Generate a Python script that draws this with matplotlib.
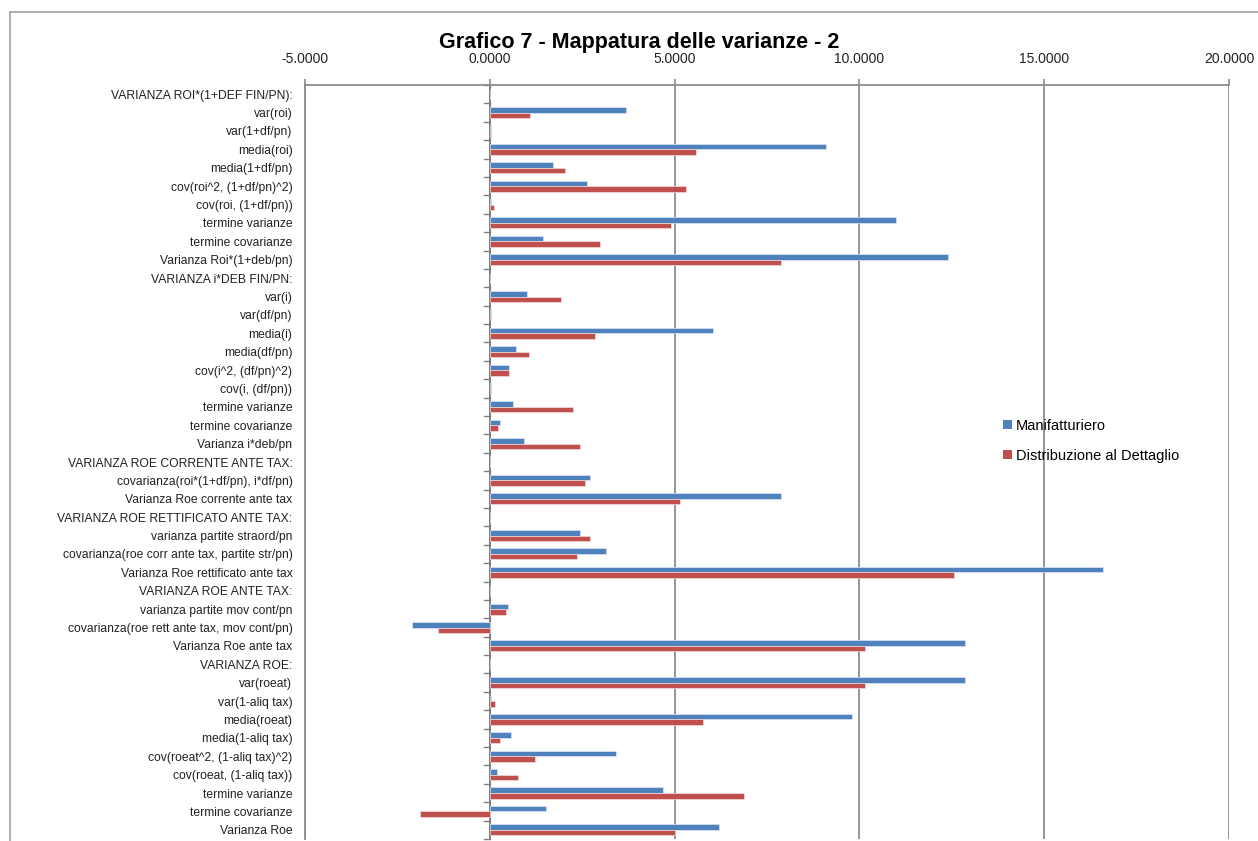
import matplotlib
matplotlib.use('Agg')
from matplotlib import pyplot as plt
from matplotlib.lines import Line2D
from matplotlib.patches import Patch
import numpy as np

plt.rcParams['font.family'] = ['Liberation Sans', 'DejaVu Sans']

categories = [
    'VARIANZA ROI*(1+DEF FIN/PN):',
    'var(roi)',
    'var(1+df/pn)',
    'media(roi)',
    'media(1+df/pn)',
    'cov(roi^2, (1+df/pn)^2)',
    'cov(roi, (1+df/pn))',
    'termine varianze',
    'termine covarianze',
    'Varianza Roi*(1+deb/pn)',
    'VARIANZA i*DEB FIN/PN:',
    'var(i)',
    'var(df/pn)',
    'media(i)',
    'media(df/pn)',
    'cov(i^2, (df/pn)^2)',
    'cov(i, (df/pn))',
    'termine varianze',
    'termine covarianze',
    'Varianza i*deb/pn',
    'VARIANZA ROE CORRENTE ANTE TAX:',
    'covarianza(roi*(1+df/pn), i*df/pn)',
    'Varianza Roe corrente ante tax',
    'VARIANZA ROE RETTIFICATO ANTE TAX:',
    'varianza partite straord/pn',
    'covarianza(roe corr ante tax, partite str/pn)',
    'Varianza Roe rettificato ante tax',
    'VARIANZA ROE ANTE TAX:',
    'varianza partite mov cont/pn',
    'covarianza(roe rett ante tax, mov cont/pn)',
    'Varianza Roe ante tax',
    'VARIANZA ROE:',
    'var(roeat)',
    'var(1-aliq tax)',
    'media(roeat)',
    'media(1-aliq tax)',
    'cov(roeat^2, (1-aliq tax)^2)',
    'cov(roeat, (1-aliq tax))',
    'termine varianze',
    'termine covarianze',
    'Varianza Roe',
]

manifatturiero = [
    0.0, 3.70, 0.04, 9.11, 1.72, 2.62, 0.04, 10.98, 1.45, 12.41,
    0.0, 1.02, 0.04, 6.03, 0.71, 0.53, 0.04, 0.64, 0.29, 0.92,
    0.0, 2.72, 7.87,
    0.0, 2.45, 3.14, 16.60,
    0.0, 0.49, -2.10, 12.85,
    0.0, 12.85, 0.04, 9.81, 0.58, 3.42, 0.19, 4.70, 1.51, 6.20,
]

dettaglio = [
    0.0, 1.09, 0.04, 5.57, 2.03, 5.32, 0.12, 4.91, 2.98, 7.87,
    0.0, 1.92, 0.04, 2.86, 1.05, 0.53, 0.03, 2.24, 0.22, 2.45,
    0.0, 2.58, 5.15,
    0.0, 2.72, 2.37, 12.57,
    0.0, 0.43, -1.40, 10.15,
    0.0, 10.15, 0.15, 5.78, 0.29, 1.23, 0.77, 6.89, -1.89, 5.00,
]

series_names = ['Manifatturiero', 'Distribuzione al Dettaglio']
xticks = [-5, 0, 5, 10, 15, 20]

blue = '#4F81BD'
red = '#C0504D'
grid_col = '#8C8C8C'

fig = plt.figure(figsize=(12.58, 8.41), dpi=100)
ax = fig.add_axes([0.2424, 0.0024, 0.7345, 0.8965])

y = np.arange(len(categories))
h = 0.3
ax.barh(y - h / 2, manifatturiero, height=h, color=blue, edgecolor='#DCE6F2', linewidth=0.5, zorder=3)
ax.barh(y + h / 2, dettaglio, height=h, color=red, edgecolor='#F2DCDB', linewidth=0.5, zorder=3)

ax.set_xlim(xticks[0], xticks[-1])
ax.set_ylim(len(categories) - 0.5, -0.5)

ax.xaxis.tick_top()
ax.set_xticks(xticks)
ax.set_xticklabels(['%.4f' % v for v in xticks], fontsize=10, color='#222222')
ax.tick_params(axis='x', direction='out', length=4, pad=10, color=grid_col, width=1.2)
ax.xaxis.grid(True, color=grid_col, linewidth=1.3, zorder=0)

ax.set_yticks(y)
ax.set_yticklabels(categories, fontsize=8.7, color='#222222')
ax.tick_params(axis='y', length=0, pad=9)

for s in ['bottom', 'right']:
    ax.spines[s].set_visible(False)
ax.spines['top'].set_color(grid_col)
ax.spines['top'].set_linewidth(1.3)
ax.spines['left'].set_color(grid_col)
ax.spines['left'].set_linewidth(1.3)

# category axis crossing at zero, with small ticks between categories
ax.axvline(0, color='#7F7F7F', linewidth=1.3, zorder=2)
for b in np.arange(len(categories) + 1) - 0.5:
    ax.plot([-0.15, 0], [b, b], color='#7F7F7F', linewidth=1.0, zorder=2, clip_on=False)

handles = [Patch(facecolor=blue, label=series_names[0]),
           Patch(facecolor=red, label=series_names[1])]
fig.legend(handles=handles, loc='center left', bbox_to_anchor=(0.787, 0.476),
           frameon=False, fontsize=10.5, handlelength=0.6, handleheight=0.65,
           handletextpad=0.25, labelspacing=1.1)

fig.text(0.508, 0.95, 'Grafico 7 - Mappatura delle varianze - 2',
         ha='center', va='center', fontsize=15.5, fontweight='bold')

# chart area border
fig.add_artist(Line2D([10 / 1258, 1], [1 - 12 / 841, 1 - 12 / 841], transform=fig.transFigure, color='#A0A0A0', linewidth=1.2))
fig.add_artist(Line2D([10 / 1258, 10 / 1258], [0, 1 - 12 / 841], transform=fig.transFigure, color='#A0A0A0', linewidth=1.2))

fig.savefig('out.png', dpi=100)
